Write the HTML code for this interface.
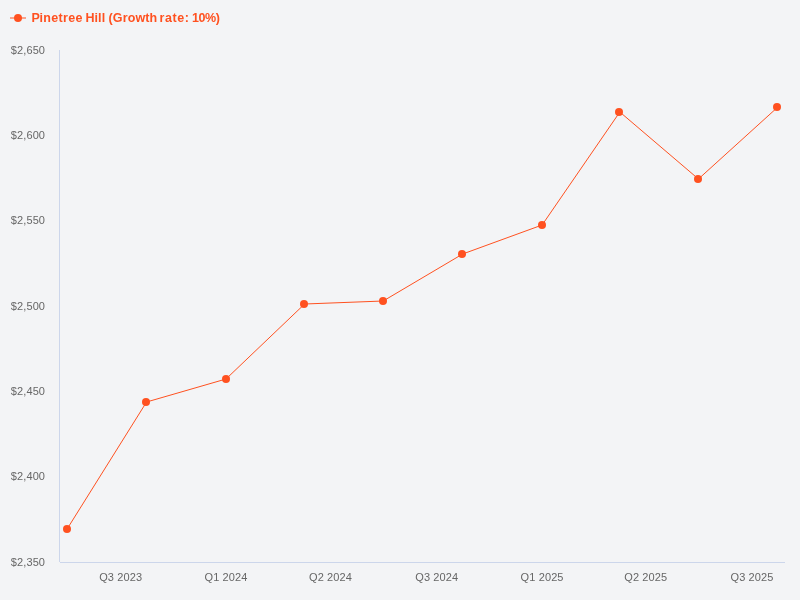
<!DOCTYPE html>
<html>
<head>
<meta charset="utf-8">
<title>Chart</title>
<style>
html,body{margin:0;padding:0;background:#f3f4f6;}
body{width:800px;height:600px;overflow:hidden;font-family:"Liberation Sans",sans-serif;}
svg{display:block;will-change:transform;}
text{font-family:"Liberation Sans",sans-serif;}
.ax{font-size:11px;fill:#666666;}
.lg{font-size:12.5px;font-weight:bold;fill:#ff5120;}
</style>
</head>
<body>
<svg width="800" height="600" viewBox="0 0 800 600">
<rect x="0" y="0" width="800" height="600" fill="#f3f4f6"/>
<!-- axes -->
<path d="M59.5 50V562" stroke="#ccd6eb" stroke-width="1" fill="none"/>
<path d="M60 562.5H785" stroke="#ccd6eb" stroke-width="1" fill="none"/>
<!-- series -->
<path d="M67.11 529.00L146.56 402.00L226.02 379.00L304.61 304.00L383.20 301.00L462.66 254.00L542.12 225.00L619.84 112.00L698.44 179.00L777.89 107.00" stroke="#ff5120" stroke-width="1" fill="none" stroke-linejoin="round" stroke-linecap="round"/>
<g fill="#ff5120">
<circle cx="67" cy="529" r="4"/>
<circle cx="146" cy="402" r="4"/>
<circle cx="226" cy="379" r="4"/>
<circle cx="304" cy="304" r="4"/>
<circle cx="383" cy="301" r="4"/>
<circle cx="462" cy="254" r="4"/>
<circle cx="542" cy="225" r="4"/>
<circle cx="619" cy="112" r="4"/>
<circle cx="698" cy="179" r="4"/>
<circle cx="777" cy="107" r="4"/>
</g>
<!-- legend -->
<path d="M10 18H26" stroke="#ff5120" stroke-width="1" fill="none"/>
<circle cx="18" cy="18" r="4" fill="#ff5120"/>
<g class="lg">
<text x="31.4" y="22" dx="0 -0.7" style="letter-spacing:0.35px">Pinetree</text>
<text x="85.4" y="22" style="letter-spacing:0.1px">Hill</text>
<text x="108.6" y="22" style="letter-spacing:0.1px">(Growth</text>
<text x="159.5" y="22" style="letter-spacing:0.6px">rate:</text>
<text x="192" y="22" style="letter-spacing:-0.4px">10%)</text>
</g>
<!-- y labels -->
<g class="ax" text-anchor="end" style="letter-spacing:0.1px">
<text x="45.1" y="54">$2,650</text>
<text x="45.1" y="139">$2,600</text>
<text x="45.1" y="224">$2,550</text>
<text x="45.1" y="310">$2,500</text>
<text x="45.1" y="395">$2,450</text>
<text x="45.1" y="480">$2,400</text>
<text x="45.1" y="566">$2,350</text>
</g>
<!-- x labels -->
<g class="ax" text-anchor="middle" style="letter-spacing:0.12px">
<text x="120.65" y="581">Q3 2023</text>
<text x="226.02" y="581">Q1 2024</text>
<text x="330.5" y="581">Q2 2024</text>
<text x="436.75" y="581">Q3 2024</text>
<text x="542.1" y="581">Q1 2025</text>
<text x="645.75" y="581">Q2 2025</text>
<text x="752" y="581">Q3 2025</text>
</g>
</svg>
</body>
</html>
